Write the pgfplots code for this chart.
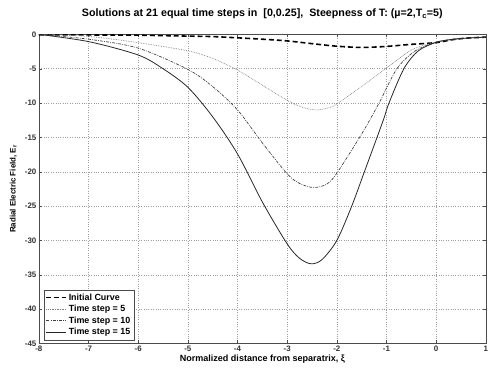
\documentclass[border=0pt]{standalone}
\usepackage{pgfplots}
\pgfplotsset{compat=1.18}
\usepackage{fontspec}
\setmainfont{Liberation Sans}
\begin{document}
\begin{tikzpicture}
\begin{axis}[
  width=449bp, height=310.5bp, scale only axis,
  xmin=-8, xmax=1, ymin=-45, ymax=0,
  xtick={-8,-7,...,1}, ytick={-45,-40,...,0},
  tick align=inside,
  major tick length=3pt,
  grid=major,
  major grid style={dotted, gray!75, line width=0.5pt},
  axis line style={gray!60!black, line width=0.6pt},
  tick style={gray!60!black},
  /pgf/number format/assume math mode=true,
  ticklabel style={font=\fontsize{8}{9}\selectfont\bfseries, text=black!80},
  xticklabel style={yshift=1pt, inner xsep=1pt},
  yticklabel style={xshift=1pt},
  title={Solutions at 21 equal time steps in\ \ [0,0.25],\ \ Steepness of T: (\textmu=2,T\textsubscript{c}=5)},
  title style={font=\fontsize{10.8}{12}\selectfont\bfseries, at={(axis description cs:0.5,1.047)}, anchor=center, inner ysep=9pt},
  xlabel={Normalized distance from separatrix, ξ},
  ylabel={Radial Electric Field, E\textsubscript{r}},
  xlabel style={font=\fontsize{9.1}{10}\selectfont\bfseries, at={(axis description cs:0.5,-0.052)}, anchor=center},
  ylabel style={font=\fontsize{8}{9}\selectfont\bfseries, at={(axis description cs:-0.057,0.5)}, anchor=center, inner ysep=10pt},
  legend style={font=\fontsize{9}{10}\selectfont\bfseries, draw=gray!60!black, line width=0.6pt,
    at={(0.011,0.01)}, anchor=south west, row sep=-0.5pt, inner sep=2pt},
  legend cell align=left,
  legend image code/.code={\draw[#1, line width=0.8pt] (0cm,0cm) -- (20bp,0cm);},
]
\addplot[black, line width=1.6pt, dash pattern=on 5pt off 3pt, smooth] coordinates {
(-8,-0.05) (-7,-0.08) (-6,-0.12) (-5,-0.25) (-4.5,-0.32) (-4,-0.5) (-3.5,-0.7) (-3,-0.95) (-2.5,-1.35) (-2,-1.72) (-1.5,-1.9) (-1,-1.75) (-0.5,-1.45) (0,-1.2) (0.3,-0.8) (0.6,-0.55) (1,-0.4)};
\addlegendentry{Initial Curve}
\addplot[gray, line width=0.7pt, densely dotted, smooth] coordinates {
(-8,0) (-7,-0.3) (-6,-1.2) (-5,-2.4) (-4.5,-3.5) (-4,-5.2) (-3.5,-7.4) (-3,-9.6) (-2.7,-10.6) (-2.4,-11.0) (-2.1,-10.55) (-2,-10.1) (-1.5,-7.6) (-1,-4.9) (-0.55,-2.5) (-0.3,-1.7) (0,-1.15) (0.3,-0.75) (0.6,-0.55) (1,-0.4)};
\addlegendentry{Time step = 5}
\addplot[black!75, line width=0.7pt, dash pattern=on 3pt off 1.2pt on 0.8pt off 1.2pt, smooth] coordinates {
(-8,0) (-7,-0.7) (-6,-2.0) (-5,-5.1) (-4.5,-7.6) (-4,-11.0) (-3.5,-15.8) (-3,-20.3) (-2.75,-21.7) (-2.47,-22.3) (-2.2,-21.8) (-2,-20.2) (-1.5,-14.5) (-1.15,-10) (-0.79,-5) (-0.42,-2.4) (0,-1.15) (0.3,-0.75) (0.6,-0.55) (1,-0.4)};
\addlegendentry{Time step = 10}
\addplot[black!85, line width=0.8pt, smooth] coordinates {
(-8,0) (-7,-1.05) (-6,-3.0) (-5.5,-5.0) (-5,-7.7) (-4.5,-12) (-4,-17.4) (-3.5,-24.4) (-3,-30.5) (-2.75,-32.6) (-2.52,-33.4) (-2.3,-32.8) (-2,-30.0) (-1.7,-25) (-1.45,-20.1) (-1.07,-12.6) (-0.95,-10) (-0.65,-5) (-0.36,-2.4) (0,-1.15) (0.3,-0.75) (0.6,-0.55) (1,-0.4)};
\addlegendentry{Time step = 15}
\end{axis}
\end{tikzpicture}
\end{document}
